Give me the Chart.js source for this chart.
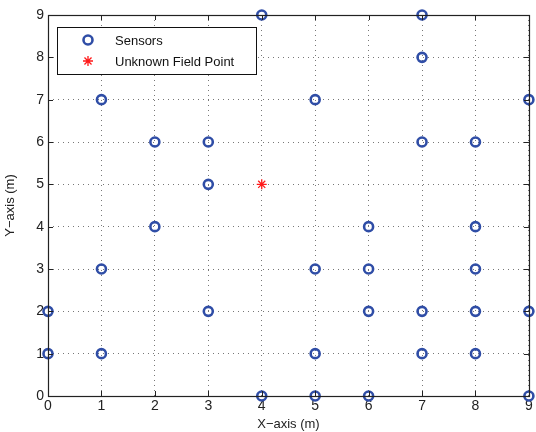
<!DOCTYPE html>
<html>
<head>
<meta charset="utf-8">
<script src="https://cdn.jsdelivr.net/npm/chart.js@4/dist/chart.umd.min.js"></script>
<style>
  html, body { margin: 0; padding: 0; background: #fff; }
  #wrap { width: 536px; height: 432px; }
</style>
</head>
<body>
<div id="wrap"><canvas id="sensorChart" width="536" height="432"></canvas></div>
<script>
// sensor positions (metres)
const sensorX = [0, 0, 1, 1, 1, 2, 2, 3, 3, 3, 4, 4, 5, 5, 5, 5, 6, 6, 6, 6, 7, 7, 7, 7, 7, 8, 8, 8, 8, 8, 9, 9, 9];
const sensorY = [1, 2, 1, 3, 7, 4, 6, 2, 5, 6, 0, 9, 0, 1, 3, 7, 0, 2, 3, 4, 1, 2, 6, 8, 9, 1, 2, 3, 4, 6, 0, 2, 7];
const fieldX = [4];
const fieldY = [5];
const tickValues = [0, 1, 2, 3, 4, 5, 6, 7, 8, 9];

const FONT = "'Liberation Sans', Arial, Helvetica, sans-serif";
const BLUE = "#2f4da6";
const RED = "#ff1a1a";
const GRID = "rgba(30,30,30,0.6)";

// MATLAB style box + inward ticks
const boxTicks = {
  id: "boxTicks",
  afterDraw(chart) {
    const { ctx, chartArea: a, scales } = chart;
    ctx.save();
    ctx.strokeStyle = "#222";
    ctx.lineWidth = 1;
    tickValues.forEach((v) => {
      const px = Math.round(scales.x.getPixelForValue(v)) + 0.5;
      const py = Math.round(scales.y.getPixelForValue(v)) + 0.5;
      ctx.beginPath();
      ctx.moveTo(px, a.bottom); ctx.lineTo(px, a.bottom - 5);
      ctx.moveTo(px, a.top); ctx.lineTo(px, a.top + 5);
      ctx.moveTo(a.left, py); ctx.lineTo(a.left + 5, py);
      ctx.moveTo(a.right, py); ctx.lineTo(a.right - 5, py);
      ctx.stroke();
    });
    ctx.lineWidth = 1.2;
    ctx.strokeRect(Math.round(a.left) + 0.5, Math.round(a.top) + 0.5, Math.round(a.right - a.left), Math.round(a.bottom - a.top));
    ctx.restore();
  },
};

// legend box in the upper left corner of the plot
const boxLegend = {
  id: "boxLegend",
  afterDatasetsDraw(chart) {
    const { ctx, chartArea: a } = chart;
    const x0 = a.left + 9, y0 = a.top + 12, w = 199, h = 47;
    ctx.save();
    ctx.fillStyle = "#fff";
    ctx.fillRect(x0, y0, w, h);
    ctx.strokeStyle = "#111";
    ctx.lineWidth = 1;
    ctx.strokeRect(x0 + 0.5, y0 + 0.5, w, h);
    ctx.font = "13px " + FONT;
    ctx.textBaseline = "middle";
    chart.data.datasets.forEach((ds, i) => {
      const cy = y0 + 13 + i * 21;
      ctx.strokeStyle = ds.borderColor;
      ctx.fillStyle = ds.backgroundColor;
      ctx.lineWidth = ds.borderWidth;
      Chart.helpers.drawPoint(ctx, {
        pointStyle: ds.pointStyle,
        radius: ds.pointRadius,
        borderWidth: ds.borderWidth,
      }, x0 + 31, cy);
      ctx.fillStyle = "#111";
      ctx.fillText(ds.label, x0 + 58, cy + 1);
    });
    ctx.restore();
  },
};

new Chart(document.getElementById("sensorChart"), {
  type: "scatter",
  data: {
    datasets: [
      {
        label: "Sensors",
        data: sensorX.map((x, i) => ({ x, y: sensorY[i] })),
        pointStyle: "circle",
        pointRadius: 4.5,
        borderWidth: 2.6,
        borderColor: BLUE,
        backgroundColor: "rgba(0,0,0,0)",
        clip: false,
      },
      {
        label: "Unknown Field Point",
        data: fieldX.map((x, i) => ({ x, y: fieldY[i] })),
        pointStyle: "star",
        pointRadius: 5,
        borderWidth: 1.3,
        borderColor: RED,
        backgroundColor: RED,
        clip: false,
      },
    ],
  },
  options: {
    responsive: false,
    animation: false,
    events: [],
    layout: { padding: { left: 3, right: 5, top: 15, bottom: 0 } },
    plugins: { legend: { display: false }, tooltip: { enabled: false } },
    scales: {
      x: {
        type: "linear",
        min: 0,
        max: 9,
        afterFit: (scale) => { scale.height = 36; },
        afterBuildTicks: (scale) => { scale.ticks = tickValues.map((value) => ({ value })); },
        border: { display: false, dash: [1, 4] },
        grid: { color: GRID, drawTicks: false, lineWidth: 1 },
        ticks: { color: "#222", font: { family: FONT, size: 14 }, padding: 2, maxRotation: 0 },
        title: { display: true, text: "X\u2212axis (m)", color: "#222", font: { family: FONT, size: 13 }, padding: { top: -2, bottom: 0 } },
      },
      y: {
        type: "linear",
        min: 0,
        max: 9,
        afterFit: (scale) => { scale.width = 45; },
        afterBuildTicks: (scale) => { scale.ticks = tickValues.map((value) => ({ value })); },
        border: { display: false, dash: [1, 4] },
        grid: { color: GRID, drawTicks: false, lineWidth: 1 },
        ticks: { color: "#222", font: { family: FONT, size: 14 }, padding: 4 },
        title: { display: true, text: "Y\u2212axis (m)", color: "#222", font: { family: FONT, size: 13 }, padding: { top: 0, bottom: 0 } },
      },
    },
  },
  plugins: [boxTicks, boxLegend],
});
</script>
</body>
</html>
